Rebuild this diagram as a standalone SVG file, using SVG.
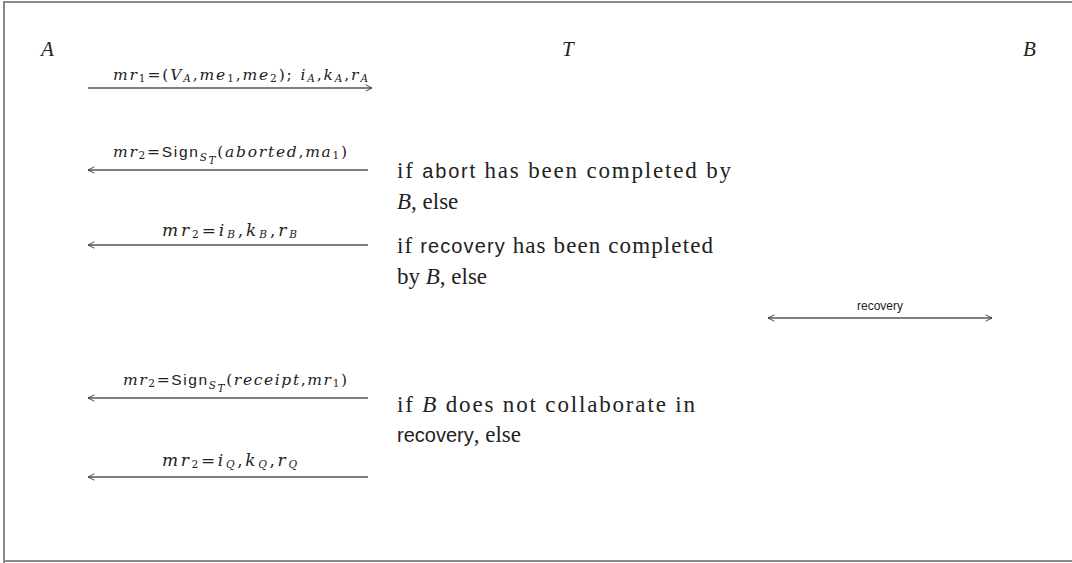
<svg xmlns="http://www.w3.org/2000/svg" width="1072" height="563" viewBox="0 0 1072 563">
  <style>
    .frame { stroke: #8a8a8a; stroke-width: 2; fill: none; }
    .party { font-family: "Liberation Serif", serif; font-style: italic; font-size: 21px; fill: #222; }
    .msg { font-family: "DejaVu Serif", serif; font-style: italic; font-size: 15.5px; fill: #222; }
    .msg.short { font-size: 17px; }
    .sub { font-size: 10.5px; }
    .rm { font-style: normal; }
    .sf { font-family: "Liberation Sans", sans-serif; font-style: normal; }
    .note { font-family: "Liberation Serif", serif; font-size: 23px; fill: #222; }
    .note .it { font-style: italic; }
    .note .sf { font-size: 20px; }
    .proto { font-family: "Liberation Sans", sans-serif; font-size: 12px; fill: #222; }
    .arrow { stroke: #555; stroke-width: 1.3; fill: none; }
  </style>
  <defs>
    <marker id="head" viewBox="0 0 10 10" refX="9" refY="5" markerWidth="8" markerHeight="8" markerUnits="userSpaceOnUse" orient="auto-start-reverse">
      <path d="M1,1 L9,5 L1,9" fill="none" stroke="#444" stroke-width="1.2"/>
    </marker>
  </defs>

  <!-- page frame -->
  <path class="frame" d="M4,563 V2 H1072 M4,561 H1072"/>

  <!-- principals -->
  <g id="party-A"><text class="party" x="41" y="56">A</text></g>
  <g id="party-T"><text class="party" x="562" y="56">T</text></g>
  <g id="party-B"><text class="party" x="1023" y="56">B</text></g>

  <!-- messages -->
  <g id="connectors">
    <line class="arrow" x1="88" y1="88" x2="372" y2="88" marker-end="url(#head)"/>
    <line class="arrow" x1="368" y1="170" x2="88" y2="170" marker-end="url(#head)"/>
    <line class="arrow" x1="368" y1="245" x2="88" y2="245" marker-end="url(#head)"/>
    <line class="arrow" x1="768" y1="318" x2="992" y2="318" marker-start="url(#head)" marker-end="url(#head)"/>
    <line class="arrow" x1="368" y1="398" x2="88" y2="398" marker-end="url(#head)"/>
    <line class="arrow" x1="368" y1="477" x2="88" y2="477" marker-end="url(#head)"/>
  </g>

  <g id="label-mr1">
    <text class="msg" x="113" y="80" textLength="255" lengthAdjust="spacing">mr<tspan class="sub rm" dy="2">1</tspan><tspan class="rm" dy="-2">=(</tspan>V<tspan class="sub" dy="2">A</tspan><tspan class="rm" dy="-2">,</tspan>me<tspan class="sub rm" dy="2">1</tspan><tspan class="rm" dy="-2">,</tspan>me<tspan class="sub rm" dy="2">2</tspan><tspan class="rm" dy="-2">); </tspan>i<tspan class="sub" dy="2">A</tspan><tspan class="rm" dy="-2">,</tspan>k<tspan class="sub" dy="2">A</tspan><tspan class="rm" dy="-2">,</tspan>r<tspan class="sub" dy="2">A</tspan></text>
  </g>

  <g id="label-abort">
    <text class="msg" x="113" y="157" textLength="234" lengthAdjust="spacing">mr<tspan class="sub rm" dy="2">2</tspan><tspan class="rm" dy="-2">=</tspan><tspan class="sf">Sign</tspan><tspan class="sub" dy="4">S</tspan><tspan class="sub" dy="3" font-size="8">T</tspan><tspan class="rm" dy="-7">(</tspan>aborted<tspan class="rm">,</tspan>ma<tspan class="sub rm" dy="2">1</tspan><tspan class="rm" dy="-2">)</tspan></text>
    <text class="note" x="397" y="178" textLength="334" lengthAdjust="spacing">if <tspan class="sf">abort</tspan> has been completed by</text>
    <text class="note" x="397" y="209"><tspan class="it">B</tspan>, else</text>
  </g>

  <g id="label-recovered">
    <text class="msg short" x="162" y="236" textLength="135" lengthAdjust="spacing">mr<tspan class="sub rm" dy="2">2</tspan><tspan class="rm" dy="-2">=</tspan>i<tspan class="sub" dy="2">B</tspan><tspan class="rm" dy="-2">,</tspan>k<tspan class="sub" dy="2">B</tspan><tspan class="rm" dy="-2">,</tspan>r<tspan class="sub" dy="2">B</tspan></text>
    <text class="note" x="397" y="253" textLength="316" lengthAdjust="spacing">if <tspan class="sf">recovery</tspan> has been completed</text>
    <text class="note" x="397" y="284">by <tspan class="it">B</tspan>, else</text>
  </g>

  <g id="label-recovery">
    <text class="proto" x="880" y="310" text-anchor="middle">recovery</text>
  </g>

  <g id="label-receipt">
    <text class="msg" x="123" y="385" textLength="224" lengthAdjust="spacing">mr<tspan class="sub rm" dy="2">2</tspan><tspan class="rm" dy="-2">=</tspan><tspan class="sf">Sign</tspan><tspan class="sub" dy="4">S</tspan><tspan class="sub" dy="3" font-size="8">T</tspan><tspan class="rm" dy="-7">(</tspan>receipt<tspan class="rm">,</tspan>mr<tspan class="sub rm" dy="2">1</tspan><tspan class="rm" dy="-2">)</tspan></text>
    <text class="note" x="397" y="412" textLength="298" lengthAdjust="spacing">if <tspan class="it">B</tspan> does not collaborate in</text>
    <text class="note" x="397" y="442"><tspan class="sf">recovery</tspan>, else</text>
  </g>

  <g id="label-resolved">
    <text class="msg short" x="162" y="466" textLength="135" lengthAdjust="spacing">mr<tspan class="sub rm" dy="2">2</tspan><tspan class="rm" dy="-2">=</tspan>i<tspan class="sub" dy="2">Q</tspan><tspan class="rm" dy="-2">,</tspan>k<tspan class="sub" dy="2">Q</tspan><tspan class="rm" dy="-2">,</tspan>r<tspan class="sub" dy="2">Q</tspan></text>
  </g>
</svg>
